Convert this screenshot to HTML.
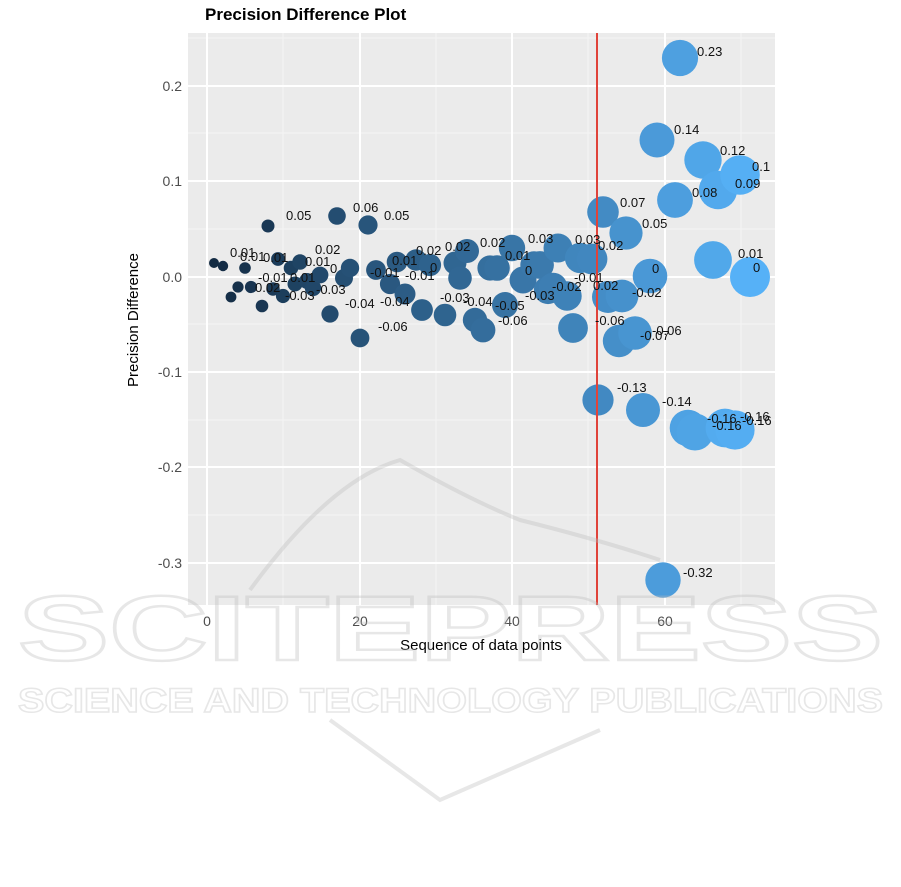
<!DOCTYPE html>
<html><head><style>body{margin:0;background:#fff}svg{display:block}text{font-family:"Liberation Sans",sans-serif}</style></head>
<body>
<svg width="901" height="887" xmlns="http://www.w3.org/2000/svg">
<text x="205" y="20" font-size="17" font-weight="bold" fill="#000">Precision Difference Plot</text>
<rect x="188" y="33" width="587" height="572" fill="#ebebeb"/>
<g stroke="#f5f5f5" stroke-width="1">
<line x1="283" y1="33" x2="283" y2="605"/><line x1="436" y1="33" x2="436" y2="605"/><line x1="588" y1="33" x2="588" y2="605"/><line x1="741" y1="33" x2="741" y2="605"/>
<line x1="188" y1="38" x2="775" y2="38"/><line x1="188" y1="133" x2="775" y2="133"/><line x1="188" y1="229" x2="775" y2="229"/><line x1="188" y1="324" x2="775" y2="324"/><line x1="188" y1="420" x2="775" y2="420"/><line x1="188" y1="515" x2="775" y2="515"/>
</g>
<g stroke="#fff" stroke-width="2">
<line x1="207" y1="33" x2="207" y2="605"/><line x1="360" y1="33" x2="360" y2="605"/><line x1="512" y1="33" x2="512" y2="605"/><line x1="665" y1="33" x2="665" y2="605"/>
<line x1="188" y1="86" x2="775" y2="86"/><line x1="188" y1="181" x2="775" y2="181"/><line x1="188" y1="277" x2="775" y2="277"/><line x1="188" y1="372" x2="775" y2="372"/><line x1="188" y1="467" x2="775" y2="467"/><line x1="188" y1="563" x2="775" y2="563"/>
</g>
<g font-size="14" fill="#4d4d4d" text-anchor="end">
<text x="182" y="91">0.2</text><text x="182" y="186">0.1</text><text x="182" y="282">0.0</text><text x="182" y="377">-0.1</text><text x="182" y="472">-0.2</text><text x="182" y="568">-0.3</text>
</g>
<g font-size="14" fill="#4d4d4d" text-anchor="middle">
<text x="207" y="626">0</text><text x="360" y="626">20</text><text x="512" y="626">40</text><text x="665" y="626">60</text>
</g>
<text x="481" y="650" font-size="15" text-anchor="middle" fill="#000">Sequence of data points</text>
<text transform="translate(138,320) rotate(-90)" font-size="15" text-anchor="middle" fill="#000">Precision Difference</text>
<g id="pts"></g>
<line x1="597" y1="33" x2="597" y2="605" stroke="#e0433a" stroke-width="2"/>
<g id="lbl" font-size="13" fill="#111"></g>
<g opacity="0.35">
<text x="18" y="660" font-size="92" textLength="865" lengthAdjust="spacingAndGlyphs" font-weight="bold" fill="none" stroke="#bbb" stroke-width="2.5">SCITEPRESS</text>
<text x="18" y="712" font-size="34" textLength="865" lengthAdjust="spacingAndGlyphs" font-weight="bold" fill="none" stroke="#bbb" stroke-width="1.5">SCIENCE AND TECHNOLOGY PUBLICATIONS</text>
<path d="M250,590 Q330,480 400,460 Q470,500 520,520 Q600,540 660,560" fill="none" stroke="#bbb" stroke-width="4"/>
<path d="M330,720 L440,800 L600,730" fill="none" stroke="#bbb" stroke-width="4"/>
</g>
</svg>
<script>
var P=[[214,263],[223,266],[231,297],[238,287],[245,268],[251,287],[262,306],[268,226],[273,289],[278,259],[283,296],[291,268],[295,284],[300,262],[307,281],[313,288],[320,275],[330,314],[337,216],[344,278],[350,268],[360,338],[368,225],[376,270],[390,284],[397,262],[405,294],[416,260],[422,310],[430,265],[445,315],[455,263],[460,278],[467,251],[475,320],[483,330],[490,268],[497,268],[505,305],[512,248],[523,280],[534,265],[540,265],[548,290],[553,287],[558,248],[567,296],[573,328],[580,258],[592,259],[598,400],[603,212],[608,297],[619,341],[622,296],[626,233],[635,333],[643,410],[650,276],[657,140],[663,580],[675,200],[680,58],[688,428],[695,432],[703,160],[713,260],[718,190],[725,428],[735,430],[740,175],[750,277]];
var n=P.length,g=document.getElementById('pts'),s='';
function mix(a,b,t){return Math.round(a+(b-a)*t)}
P.forEach(function(p,i){var t=i/(n-1),r=5+15*t;
s+='<circle cx="'+p[0]+'" cy="'+p[1]+'" r="'+r.toFixed(1)+'" fill="rgb('+mix(19,86,t)+','+mix(43,177,t)+','+mix(67,247,t)+')"/>';});
g.innerHTML=s;
var L=[[286,220,"0.05"],[353,212,"0.06"],[384,220,"0.05"],[230,257,"0.01"],[240,261,"0.01"],[263,262,"0.01"],[315,254,"0.02"],[305,266,"0.01"],[258,282,"-0.01"],[290,282,"0.01"],[330,273,"0"],[255,292,"0.02"],[285,300,"-0.03"],[316,294,"-0.03"],[370,277,"-0.01"],[392,265,"0.01"],[416,255,"0.02"],[405,280,"-0.01"],[345,308,"-0.04"],[380,306,"-0.04"],[440,302,"-0.03"],[378,331,"-0.06"],[445,251,"0.02"],[480,247,"0.02"],[430,272,"0"],[463,306,"-0.04"],[495,310,"-0.05"],[498,325,"-0.06"],[505,260,"0.01"],[525,275,"0"],[528,243,"0.03"],[525,300,"-0.03"],[552,291,"-0.02"],[575,244,"0.03"],[598,250,"0.02"],[574,282,"-0.01"],[593,290,"0.02"],[620,207,"0.07"],[642,228,"0.05"],[595,325,"-0.06"],[632,297,"-0.02"],[652,273,"0"],[652,335,"-0.06"],[640,340,"-0.07"],[617,392,"-0.13"],[662,406,"-0.14"],[674,134,"0.14"],[683,577,"-0.32"],[697,56,"0.23"],[720,155,"0.12"],[692,197,"0.08"],[735,188,"0.09"],[752,171,"0.1"],[738,258,"0.01"],[753,272,"0"],[707,423,"-0.16"],[740,421,"-0.16"],[712,430,"-0.16"],[742,425,"-0.16"]];
var h='';L.forEach(function(l){h+='<text x="'+l[0]+'" y="'+l[1]+'">'+l[2]+'</text>'});
document.getElementById('lbl').innerHTML=h;
</script>
</body></html>
